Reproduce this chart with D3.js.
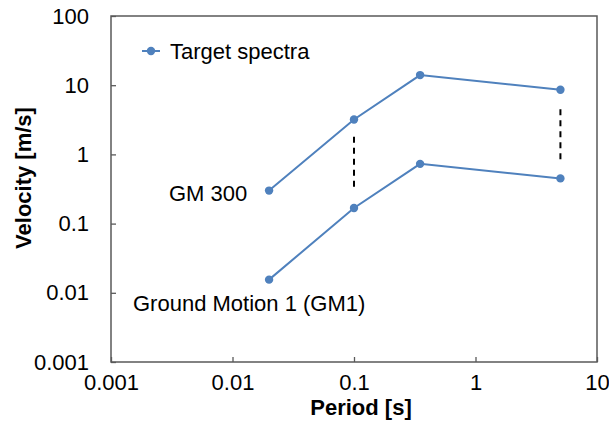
<!DOCTYPE html>
<html>
<head>
<meta charset="utf-8">
<script src="https://cdn.jsdelivr.net/npm/d3@7"></script>
<style>
  body { margin: 0; background: #fff; }
  text { font-family: "Liberation Sans", Arial, sans-serif; fill: #000; }
</style>
</head>
<body>
<svg id="chart" width="609" height="430"></svg>
<script>
const periods = [0.02, 0.1, 0.35, 5];
const gm300 = [0.3, 3.2, 14, 8.6];
const gm1 = [0.0155, 0.168, 0.73, 0.45];
const dashX = [0.1, 5];
const dashTop = [1.8, 4.5];
const dashBottom = [0.3, 0.83];
const xTicks = [0.001, 0.01, 0.1, 1, 10];
const yTicks = [0.001, 0.01, 0.1, 1, 10, 100];

const margin = { top: 16, right: 12, bottom: 68, left: 111 };
const svg = d3.select("#chart");
const width = +svg.attr("width") - margin.left - margin.right;
const height = +svg.attr("height") - margin.top - margin.bottom;
const blue = "#4f81bd";
const fs = 22;

const x = d3.scaleLog().domain([0.001, 10]).range([0, width]);
const y = d3.scaleLog().domain([0.001, 100]).range([height, 0]);

const g = svg.append("g").attr("transform", `translate(${margin.left},${margin.top})`);

// x axis
const xAxis = g.append("g")
  .attr("transform", `translate(0,${height})`)
  .call(d3.axisBottom(x).tickValues(xTicks).tickFormat(d3.format("~g"))
    .tickSizeInner(-5).tickSizeOuter(0).tickPadding(12));
xAxis.select(".domain").remove();
xAxis.selectAll("line").attr("stroke", "#595959").attr("stroke-width", 1.3);
xAxis.selectAll("text").attr("font-size", fs).attr("fill", "#000");

// y axis
const yAxis = g.append("g")
  .call(d3.axisLeft(y).tickValues(yTicks).tickFormat(d3.format("~g"))
    .tickSizeInner(-5).tickSizeOuter(0).tickPadding(22));
yAxis.select(".domain").remove();
yAxis.selectAll("line").attr("stroke", "#595959").attr("stroke-width", 1.3);
yAxis.selectAll("text").attr("font-size", fs).attr("fill", "#000");

// frame
g.append("rect")
  .attr("width", width).attr("height", height)
  .attr("fill", "none").attr("stroke", "#595959").attr("stroke-width", 1.5);

// axis titles
svg.append("text")
  .attr("x", 361).attr("y", 415)
  .attr("text-anchor", "middle").attr("font-size", fs).attr("font-weight", "bold")
  .text("Period [s]");
svg.append("text")
  .attr("transform", "translate(31,178) rotate(-90)")
  .attr("text-anchor", "middle").attr("font-size", fs).attr("font-weight", "bold")
  .text("Velocity [m/s]");

// dashed connectors
g.selectAll(".dash")
  .data(dashX)
  .enter()
  .append("line")
  .attr("x1", (d) => x(d)).attr("x2", (d) => x(d))
  .attr("y1", (d, i) => y(dashTop[i])).attr("y2", (d, i) => y(dashBottom[i]))
  .attr("stroke", "#000").attr("stroke-width", 2).attr("stroke-dasharray", "6,5");

// series
const line = d3.line().x((d) => x(d[0])).y((d) => y(d[1]));
[gm300, gm1].forEach((vals) => {
  const pts = periods.map((p, i) => [p, vals[i]]);
  g.append("path").datum(pts)
    .attr("d", line).attr("fill", "none")
    .attr("stroke", blue).attr("stroke-width", 2);
  g.selectAll(null).data(pts).enter().append("circle")
    .attr("cx", (d) => x(d[0])).attr("cy", (d) => y(d[1]))
    .attr("r", 4.2).attr("fill", blue);
});

// annotations
svg.append("text").attr("x", 169).attr("y", 201).attr("font-size", fs).text("GM 300");
svg.append("text").attr("x", 133).attr("y", 311).attr("font-size", fs).text("Ground Motion 1 (GM1)");

// legend
svg.append("line").attr("x1", 142).attr("x2", 160).attr("y1", 51).attr("y2", 51)
  .attr("stroke", blue).attr("stroke-width", 2);
svg.append("circle").attr("cx", 151).attr("cy", 51).attr("r", 4.2).attr("fill", blue);
svg.append("text").attr("x", 170).attr("y", 59).attr("font-size", fs).text("Target spectra");
</script>
</body>
</html>
